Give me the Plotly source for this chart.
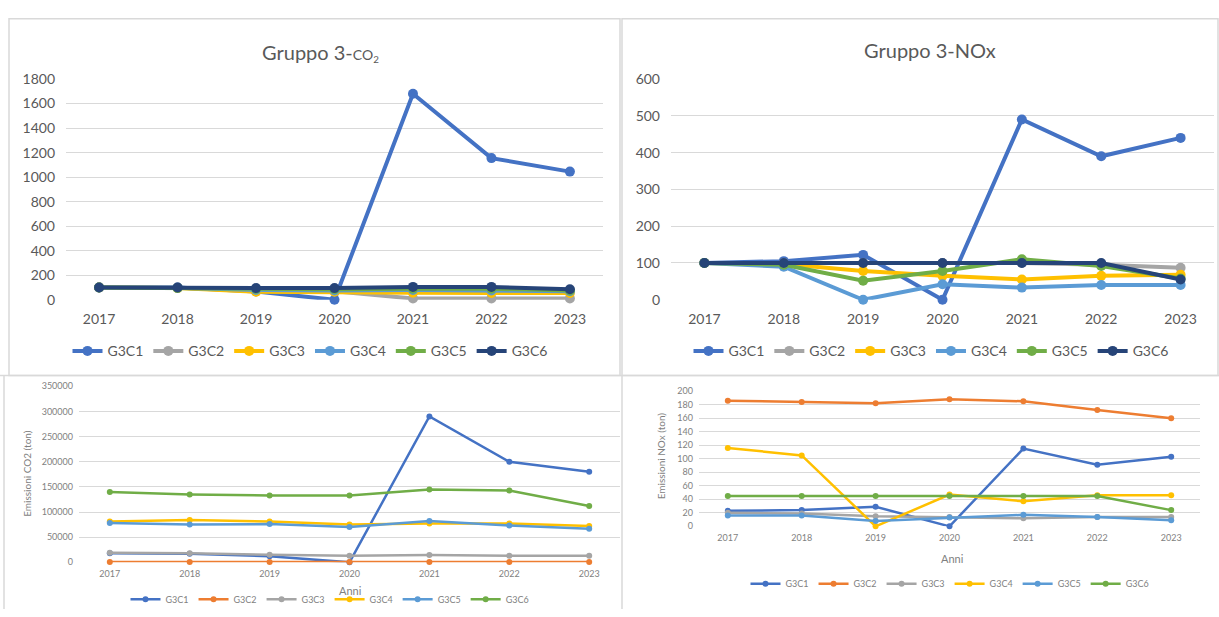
import plotly.graph_objects as go

W, H = 1219, 617

years = ["2017", "2018", "2019", "2020", "2021", "2022", "2023"]
names = ["G3C1", "G3C2", "G3C3", "G3C4", "G3C5", "G3C6"]

# indici (2017 = 100)
co2_idx_g3c1 = [100, 100, 68, 0, 1680, 1155, 1045]
co2_idx_g3c2 = [100, 98, 75, 70, 10, 10, 10]
co2_idx_g3c3 = [100, 95, 65, 65, 58, 55, 55]
co2_idx_g3c4 = [100, 97, 80, 75, 80, 75, 70]
co2_idx_g3c5 = [100, 96, 88, 85, 90, 90, 75]
co2_idx_g3c6 = [100, 100, 95, 95, 105, 105, 85]

nox_idx_g3c1 = [100, 105, 122, 0, 490, 390, 440]
nox_idx_g3c2 = [100, 100, 100, 100, 100, 95, 87]
nox_idx_g3c3 = [100, 97, 78, 65, 55, 65, 68]
nox_idx_g3c4 = [100, 90, 0, 42, 33, 40, 40]
nox_idx_g3c5 = [100, 95, 52, 78, 110, 92, 58]
nox_idx_g3c6 = [100, 100, 100, 100, 100, 100, 55]

# emissioni (ton)
co2_g3c1 = [18000, 17000, 12000, 0, 290000, 200000, 180000]
co2_g3c2 = [500, 500, 500, 500, 500, 500, 500]
co2_g3c3 = [19000, 18000, 15000, 13000, 14500, 13000, 13000]
co2_g3c4 = [81000, 84000, 81000, 75000, 77000, 77000, 72000]
co2_g3c5 = [78000, 75000, 76000, 70000, 82000, 73000, 67000]
co2_g3c6 = [140000, 135000, 133000, 133000, 145000, 143000, 112000]

nox_g3c1 = [23, 24, 29, 0, 115, 91, 103]
nox_g3c2 = [186, 184, 182, 188, 185, 172, 160]
nox_g3c3 = [20, 19, 15, 14, 12, 14, 14]
nox_g3c4 = [116, 105, 0, 47, 37, 46, 46]
nox_g3c5 = [16, 16, 8, 13, 17, 14, 9]
nox_g3c6 = [45, 45, 45, 45, 45, 45, 24]

top_colors = ["#4472C4", "#A5A5A5", "#FFC000", "#5B9BD5", "#70AD47", "#264478"]
bot_colors = ["#4472C4", "#ED7D31", "#A5A5A5", "#FFC000", "#5B9BD5", "#70AD47"]

FONT = "Lato"
GRAY = "#595959"


def dx(a, b):
    return [a / W, b / W]


def dy(top, bottom):
    return [1 - bottom / H, 1 - top / H]


fig = go.Figure()

panels = [
    ("x", "y", "legend", [co2_idx_g3c1, co2_idx_g3c2, co2_idx_g3c3, co2_idx_g3c4, co2_idx_g3c5, co2_idx_g3c6], top_colors, 4, 10),
    ("x2", "y2", "legend2", [nox_idx_g3c1, nox_idx_g3c2, nox_idx_g3c3, nox_idx_g3c4, nox_idx_g3c5, nox_idx_g3c6], top_colors, 4, 10),
    ("x3", "y3", "legend3", [co2_g3c1, co2_g3c2, co2_g3c3, co2_g3c4, co2_g3c5, co2_g3c6], bot_colors, 2.5, 6),
    ("x4", "y4", "legend4", [nox_g3c1, nox_g3c2, nox_g3c3, nox_g3c4, nox_g3c5, nox_g3c6], bot_colors, 2.5, 6),
]

for xa, ya, lg, series, colors, lw, ms in panels:
    for name, vals, col in zip(names, series, colors):
        fig.add_trace(go.Scatter(
            x=years, y=vals, name=name, mode="lines+markers",
            line=dict(color=col, width=lw), marker=dict(color=col, size=ms),
            xaxis=xa, yaxis=ya, legend=lg, cliponaxis=False,
        ))

grid = "#D9D9D9"
top_tick = dict(family=FONT, size=14, color=GRAY)
bot_tick = dict(family=FONT, size=9, color="#7F7F7F")

common_x = dict(type="category", showgrid=False, showline=False, zeroline=False, ticks="")
common_y = dict(showgrid=True, gridcolor=grid, gridwidth=1, zeroline=False, showline=False, ticks="",
                tickformat="d")

fig.update_layout(
    width=W, height=H, margin=dict(l=0, r=0, t=0, b=0),
    paper_bgcolor="white", plot_bgcolor="white",
    xaxis=dict(common_x, domain=dx(66, 603), anchor="y", tickfont=top_tick, ticklabelstandoff=9),
    yaxis=dict(common_y, domain=dy(72, 299), anchor="x", range=[0, 1800], dtick=200, tickfont=top_tick,
               ticklabelstandoff=10),
    xaxis2=dict(common_x, domain=dx(671, 1214), anchor="y2", tickfont=top_tick, ticklabelstandoff=9),
    yaxis2=dict(common_y, domain=dy(72, 299), anchor="x2", range=[0, 600], dtick=100, tickfont=top_tick,
                ticklabelstandoff=10),
    xaxis3=dict(common_x, domain=dx(79, 620), anchor="y3", tickfont=bot_tick, ticklabelstandoff=5),
    yaxis3=dict(common_y, domain=dy(388, 569), anchor="x3", range=[0, 350000], dtick=50000, tickfont=bot_tick,
                ticklabelstandoff=5),
    xaxis4=dict(common_x, domain=dx(699, 1200), anchor="y4", tickfont=bot_tick, ticklabelstandoff=5),
    yaxis4=dict(common_y, domain=dy(393, 532), anchor="x4", range=[0, 200], dtick=20, tickfont=bot_tick,
                ticklabelstandoff=5),
)

leg_top = dict(orientation="h", xanchor="center", yanchor="middle", bgcolor="rgba(0,0,0,0)",
               font=dict(family=FONT, size=14, color=GRAY), itemwidth=30, tracegroupgap=0)
leg_bot = dict(orientation="h", xanchor="center", yanchor="middle", bgcolor="rgba(0,0,0,0)",
               font=dict(family=FONT, size=9, color="#7F7F7F"), itemwidth=30, tracegroupgap=0)

fig.update_layout(
    legend=dict(leg_top, x=310 / W, y=1 - 352 / H),
    legend2=dict(leg_top, x=931 / W, y=1 - 352 / H),
    legend3=dict(leg_bot, x=330 / W, y=1 - 607 / H),
    legend4=dict(leg_bot, x=950 / W, y=1 - 591 / H),
)

annotations = [
    dict(text="Gruppo 3-<span style='font-size:14px'>CO<sub>2</sub></span>", x=320 / W, y=1 - 45 / H,
         font=dict(family=FONT, size=20, color=GRAY)),
    dict(text="Gruppo 3-NOx", x=930 / W, y=1 - 42 / H, font=dict(family=FONT, size=20, color=GRAY)),
    dict(text="Anni", x=350 / W, y=1 - 598 / H, font=dict(family=FONT, size=11, color="#7F7F7F")),
    dict(text="Anni", x=952 / W, y=1 - 565 / H, font=dict(family=FONT, size=11, color="#7F7F7F")),
    dict(text="Emissioni CO2 (ton)", x=27 / W, y=1 - 478 / H, textangle=-90,
         font=dict(family=FONT, size=10, color="#7F7F7F")),
    dict(text="Emissioni NOx (ton)", x=661 / W, y=1 - 460 / H, textangle=-90,
         font=dict(family=FONT, size=10, color="#7F7F7F")),
]
for a in annotations:
    a.update(xref="paper", yref="paper", showarrow=False, xanchor="center", yanchor="middle")
fig.update_layout(annotations=annotations)

border = dict(color="#D9D9D9", width=1.5)
shapes = [
    dict(type="rect", x0=9, x1=620, y0=10, y1=377),
    dict(type="rect", x0=622, x1=1218, y0=10, y1=377),
    dict(type="line", x0=0, x1=W, y0=377, y1=377),
    dict(type="line", x0=622, x1=622, y0=377, y1=H),
    dict(type="line", x0=4, x1=4, y0=377, y1=H),
]
for s in shapes:
    s.update(xref="paper", yref="paper", line=border, layer="below",
             x0=s["x0"] / W, x1=s["x1"] / W, y0=1 - s["y0"] / H, y1=1 - s["y1"] / H)
fig.update_layout(shapes=shapes)

fig.write_html("out.html", config={"displayModeBar": False},
               post_script="document.body.style.margin='0';document.body.style.overflow='hidden';")
